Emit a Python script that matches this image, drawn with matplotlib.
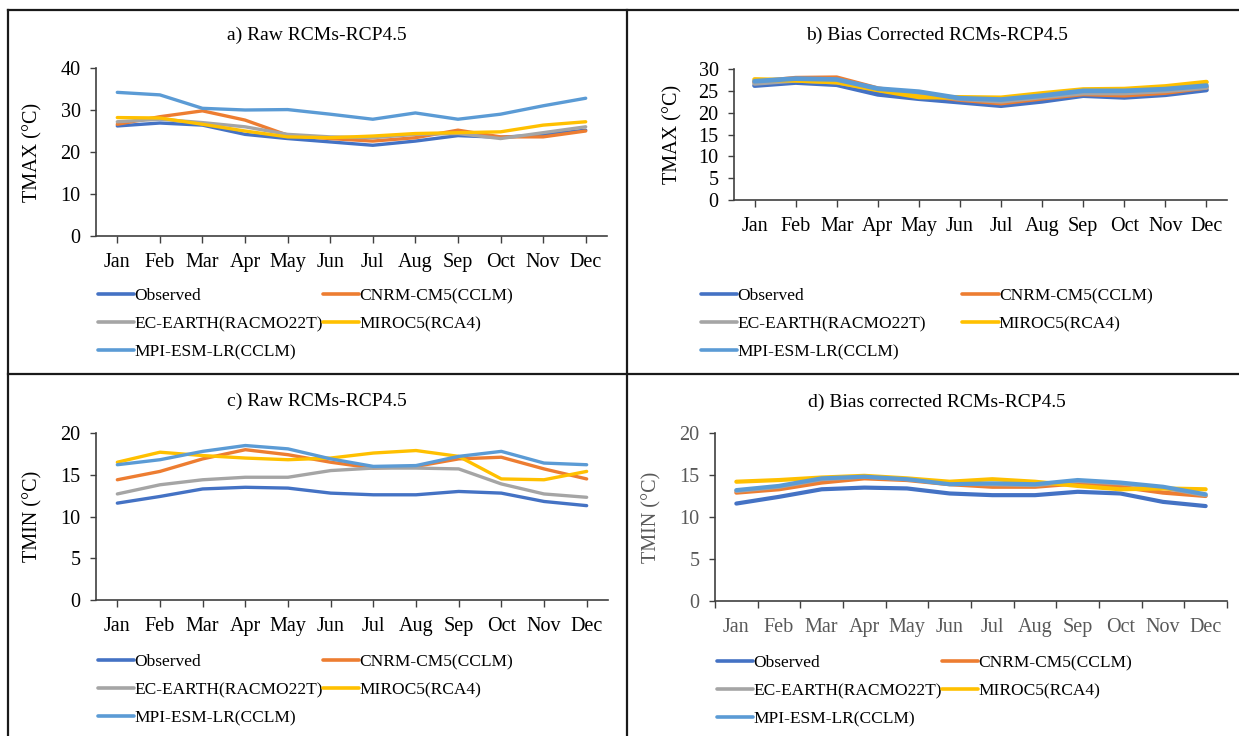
import matplotlib
matplotlib.use('Agg')
import matplotlib.pyplot as plt
from matplotlib.lines import Line2D
import numpy as np

plt.rcParams['font.family'] = ['Liberation Serif', 'DejaVu Serif']

# ── Data ─────────────────────────────────────────────────────────────────────
MONTHS = ['Jan', 'Feb', 'Mar', 'Apr', 'May', 'Jun',
          'Jul', 'Aug', 'Sep', 'Oct', 'Nov', 'Dec']
MODELS = ['Observed', 'CNRM-CM5(CCLM)', 'EC-EARTH(RACMO22T)',
          'MIROC5(RCA4)', 'MPI-ESM-LR(CCLM)']

tmax_obs = [26.2, 26.9, 26.4, 24.2, 23.2, 22.4, 21.6, 22.6, 23.9, 23.5, 24.1, 25.2]
tmin_obs = [11.6, 12.4, 13.3, 13.5, 13.4, 12.8, 12.6, 12.6, 13.0, 12.8, 11.8, 11.3]

tmax_raw_cnrm = [26.6, 28.4, 29.8, 27.6, 24.0, 23.2, 22.6, 23.4, 25.2, 23.6, 23.6, 25.0]
tmax_raw_ec = [27.2, 27.8, 27.0, 26.0, 24.2, 23.6, 23.4, 24.2, 24.4, 23.2, 24.6, 26.0]
tmax_raw_miroc = [28.2, 28.1, 26.6, 25.0, 23.6, 23.4, 23.8, 24.4, 24.6, 24.8, 26.4, 27.2]
tmax_raw_mpi = [34.2, 33.6, 30.4, 30.0, 30.1, 29.0, 27.8, 29.3, 27.8, 29.0, 31.0, 32.8]

tmax_bc_cnrm = [27.0, 27.9, 28.0, 25.5, 24.2, 23.0, 22.2, 23.3, 24.3, 24.0, 24.6, 25.8]
tmax_bc_ec = [26.7, 27.4, 27.0, 25.3, 24.3, 23.2, 22.6, 23.6, 24.5, 24.5, 25.0, 25.8]
tmax_bc_miroc = [27.6, 27.4, 27.0, 25.2, 23.6, 23.5, 23.4, 24.4, 25.3, 25.4, 26.0, 27.0]
tmax_bc_mpi = [27.2, 27.8, 27.6, 25.5, 24.8, 23.3, 23.0, 23.9, 25.0, 25.0, 25.4, 26.2]

tmin_raw_cnrm = [14.4, 15.4, 16.9, 18.0, 17.4, 16.5, 15.8, 16.0, 16.9, 17.1, 15.7, 14.5]
tmin_raw_ec = [12.7, 13.8, 14.4, 14.7, 14.7, 15.5, 15.8, 15.8, 15.7, 13.9, 12.7, 12.3]
tmin_raw_miroc = [16.5, 17.7, 17.3, 17.0, 16.8, 17.0, 17.6, 17.9, 17.2, 14.5, 14.4, 15.4]
tmin_raw_mpi = [16.2, 16.8, 17.8, 18.5, 18.1, 16.9, 16.0, 16.1, 17.2, 17.8, 16.4, 16.2]

tmin_bc_cnrm = [12.9, 13.3, 14.1, 14.6, 14.4, 13.9, 13.6, 13.6, 14.0, 13.6, 12.9, 12.5]
tmin_bc_ec = [13.1, 13.6, 14.5, 14.8, 14.5, 14.0, 13.9, 13.8, 14.3, 14.0, 13.5, 12.6]
tmin_bc_miroc = [14.2, 14.4, 14.7, 14.9, 14.6, 14.2, 14.5, 14.2, 13.7, 13.3, 13.4, 13.3]
tmin_bc_mpi = [13.2, 13.7, 14.6, 14.8, 14.5, 13.9, 14.0, 13.9, 14.4, 14.1, 13.6, 12.7]

# ── Style ────────────────────────────────────────────────────────────────────
COLORS = ['#4472C4', '#ED7D31', '#A5A5A5', '#FFC000', '#5B9BD5']
W, H = 1239, 736
AXIS_COLOR = '#404040'

fig = plt.figure(figsize=(W / 100, H / 100), dpi=100)


def px_axes(left, top, right, bottom):
    """Add axes given pixel box (origin top-left)."""
    return fig.add_axes([left / W, 1 - bottom / H, (right - left) / W, (bottom - top) / H])


def draw_panel(box, series, ylim, ystep, ylabel, title, title_xy, legend_xy,
               lw=2.4, col_gap=0.0, between=False, tick_color='black'):
    ax = px_axes(*box)
    x = np.arange(len(MONTHS))
    for vals, c, name in zip(series, COLORS, MODELS):
        ax.plot(x, vals, color=c, lw=lw, label=name, solid_capstyle='round',
                solid_joinstyle='round')

    ax.set_xlim(-0.5, len(MONTHS) - 0.5)
    ax.set_ylim(*ylim)
    ax.set_yticks(np.arange(ylim[0], ylim[1] + 0.1, ystep))
    ax.set_xticks(x)
    ax.set_xticklabels(MONTHS)
    for side in ('top', 'right'):
        ax.spines[side].set_visible(False)
    for side in ('left', 'bottom'):
        ax.spines[side].set_color(AXIS_COLOR)
        ax.spines[side].set_linewidth(1.2)

    ax.tick_params(axis='y', direction='out', length=4, width=1.0, color=AXIS_COLOR,
                   labelsize=14.5, pad=7, labelcolor=tick_color)
    if between:
        ax.tick_params(axis='x', which='major', length=0, pad=12, labelsize=14.5,
                       labelcolor=tick_color)
        ax.set_xticks(np.arange(-0.5, len(MONTHS)), minor=True)
        ax.tick_params(axis='x', which='minor', direction='out', length=5, width=1.0,
                       color=AXIS_COLOR)
    else:
        ax.tick_params(axis='x', direction='out', length=5, width=1.0, color=AXIS_COLOR,
                       labelsize=14.5, pad=7, labelcolor=tick_color)

    ax.set_ylabel(ylabel, fontsize=14.5, color=tick_color)
    ax.yaxis.set_label_coords(-0.104, 0.5)

    fig.text(title_xy[0] / W, 1 - title_xy[1] / H, title, fontsize=14,
             ha='center', va='center')

    # legend: two columns, filled row-wise like the source chart
    handles, labels = ax.get_legend_handles_labels()
    order = [0, 2, 4, 1, 3]
    leg = fig.legend([handles[i] for i in order], [labels[i] for i in order],
                     loc='upper left',
                     bbox_to_anchor=(legend_xy[0] / W, 1 - legend_xy[1] / H),
                     ncol=2, frameon=False, fontsize=12.5, handlelength=2.1,
                     handletextpad=0.0, columnspacing=col_gap, borderpad=0,
                     borderaxespad=0, labelspacing=0.68)
    for line in leg.get_lines():
        line.set_linewidth(2.6)
    return ax


draw_panel((96, 68, 607, 236),
           [tmax_obs, tmax_raw_cnrm, tmax_raw_ec, tmax_raw_miroc, tmax_raw_mpi],
           (0, 40), 10, 'TMAX (°C)', 'a) Raw RCMs-RCP4.5', (317, 35), (98, 288))

draw_panel((734, 69, 1227, 200),
           [tmax_obs, tmax_bc_cnrm, tmax_bc_ec, tmax_bc_miroc, tmax_bc_mpi],
           (0, 30), 5, 'TMAX (°C)', 'b) Bias Corrected RCMs-RCP4.5', (937, 35),
           (701, 288), lw=3.4, col_gap=2.1)

draw_panel((96, 433, 608, 600),
           [tmin_obs, tmin_raw_cnrm, tmin_raw_ec, tmin_raw_miroc, tmin_raw_mpi],
           (0, 20), 5, 'TMIN (°C)', 'c) Raw RCMs-RCP4.5', (317, 401), (98, 654))

draw_panel((715, 433, 1227, 601),
           [tmin_obs, tmin_bc_cnrm, tmin_bc_ec, tmin_bc_miroc, tmin_bc_mpi],
           (0, 20), 5, 'TMIN (°C)', 'd) Bias corrected RCMs-RCP4.5', (937, 402),
           (717, 655), lw=3.0, between=True, tick_color='#595959')

# ── Panel frame lines ────────────────────────────────────────────────────────
def fig_line(x0, y0, x1, y1):
    fig.add_artist(Line2D([x0 / W, x1 / W], [1 - y0 / H, 1 - y1 / H],
                          transform=fig.transFigure, color='#1a1a1a', lw=1.6))


fig_line(8, 10, W, 10)
fig_line(8, 10, 8, H)
fig_line(627, 10, 627, H)
fig_line(8, 374, W, 374)

fig.savefig('out.png', dpi=100)
